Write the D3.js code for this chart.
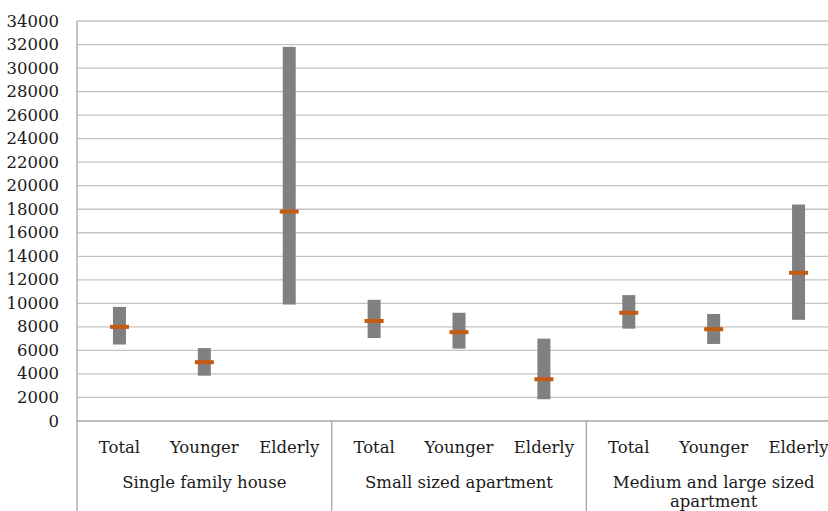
<!DOCTYPE html>
<html>
<head>
<meta charset="utf-8">
<script src="https://cdn.jsdelivr.net/npm/d3@7"></script>
<style>
  body { margin: 0; background: #fff; }
</style>
</head>
<body>
<svg id="chart"></svg>
<script>
// groups and sub-categories
const groups = ["Single family house", "Small sized apartment", "Medium and large sized apartment"];
const groupLines = [["Single family house"], ["Small sized apartment"], ["Medium and large sized", "apartment"]];
const subCats = ["Total", "Younger", "Elderly"];

// values per group, in the order Total, Younger, Elderly
const highs = [[9700, 6200, 31800], [10300, 9200, 7000], [10700, 9100, 18400]];
const lows  = [[6500, 3850, 9900],  [7050, 6150, 1850], [7850, 6550, 8600]];
const mids  = [[8000, 5000, 17800], [8500, 7550, 3550], [9200, 7800, 12600]];

const yTicks = d3.range(0, 34001, 2000);

const width = 828, height = 511;
const margin = { top: 21, left: 77, bottom: 421 };
const plotRight = 841;
const fontFam = "DejaVu Serif";
const fontSize = "16.5px";

const svg = d3.select("#chart").attr("width", width).attr("height", height);

const y = d3.scaleLinear().domain([0, 34000]).range([margin.bottom, margin.top]);
const x0 = d3.scaleBand().domain(groups).range([margin.left, plotRight]);
const x1 = d3.scaleBand().domain(subCats).range([0, x0.bandwidth()]);

// grid lines
svg.append("g")
   .selectAll("line")
   .data(yTicks.filter(d => d > 0))
   .enter().append("line")
   .attr("x1", margin.left)
   .attr("x2", plotRight)
   .attr("y1", d => y(d))
   .attr("y2", d => y(d))
   .style("stroke", "#c3c3c3")
   .style("stroke-width", 1.3);

// y tick labels
svg.append("g")
   .selectAll("text")
   .data(yTicks)
   .enter().append("text")
   .attr("x", 59)
   .attr("y", d => y(d))
   .attr("text-anchor", "end")
   .attr("dominant-baseline", "central")
   .style("font-family", fontFam)
   .style("font-size", fontSize)
   .style("fill", "#1a1a1a")
   .text(d => d);

// axis lines
svg.append("line")
   .attr("x1", margin.left).attr("x2", plotRight)
   .attr("y1", y(0)).attr("y2", y(0))
   .style("stroke", "#a6a6a6").style("stroke-width", 1.3);
svg.append("line")
   .attr("x1", margin.left).attr("x2", margin.left)
   .attr("y1", margin.top).attr("y2", height)
   .style("stroke", "#a6a6a6").style("stroke-width", 1.3);

// group separators
svg.append("g")
   .selectAll("line")
   .data(groups.slice(1))
   .enter().append("line")
   .attr("x1", d => x0(d)).attr("x2", d => x0(d))
   .attr("y1", y(0)).attr("y2", height)
   .style("stroke", "#a6a6a6").style("stroke-width", 1.3);

// range bars and median marks
const barW = 13, markW = 19, markH = 4;
groups.forEach((g, gi) => {
    subCats.forEach((c, ci) => {
        const cx = x0(g) + x1(c) + x1.bandwidth() / 2;
        svg.append("rect")
           .attr("x", cx - barW / 2)
           .attr("y", y(highs[gi][ci]))
           .attr("width", barW)
           .attr("height", y(lows[gi][ci]) - y(highs[gi][ci]))
           .attr("fill", "#808080");
        svg.append("rect")
           .attr("x", cx - markW / 2)
           .attr("y", y(mids[gi][ci]) - markH / 2)
           .attr("width", markW)
           .attr("height", markH)
           .attr("fill", "#c55a11");
        svg.append("text")
           .attr("x", cx)
           .attr("y", 453)
           .attr("text-anchor", "middle")
           .style("font-family", fontFam)
           .style("font-size", fontSize)
           .style("fill", "#1a1a1a")
           .text(c);
    });
    const lines = groupLines[gi];
    lines.forEach((t, li) => {
        svg.append("text")
           .attr("x", x0(g) + x0.bandwidth() / 2)
           .attr("y", 488 + li * 19)
           .attr("text-anchor", "middle")
           .style("font-family", fontFam)
           .style("font-size", fontSize)
           .style("fill", "#1a1a1a")
           .text(t);
    });
});
</script>
</body>
</html>
